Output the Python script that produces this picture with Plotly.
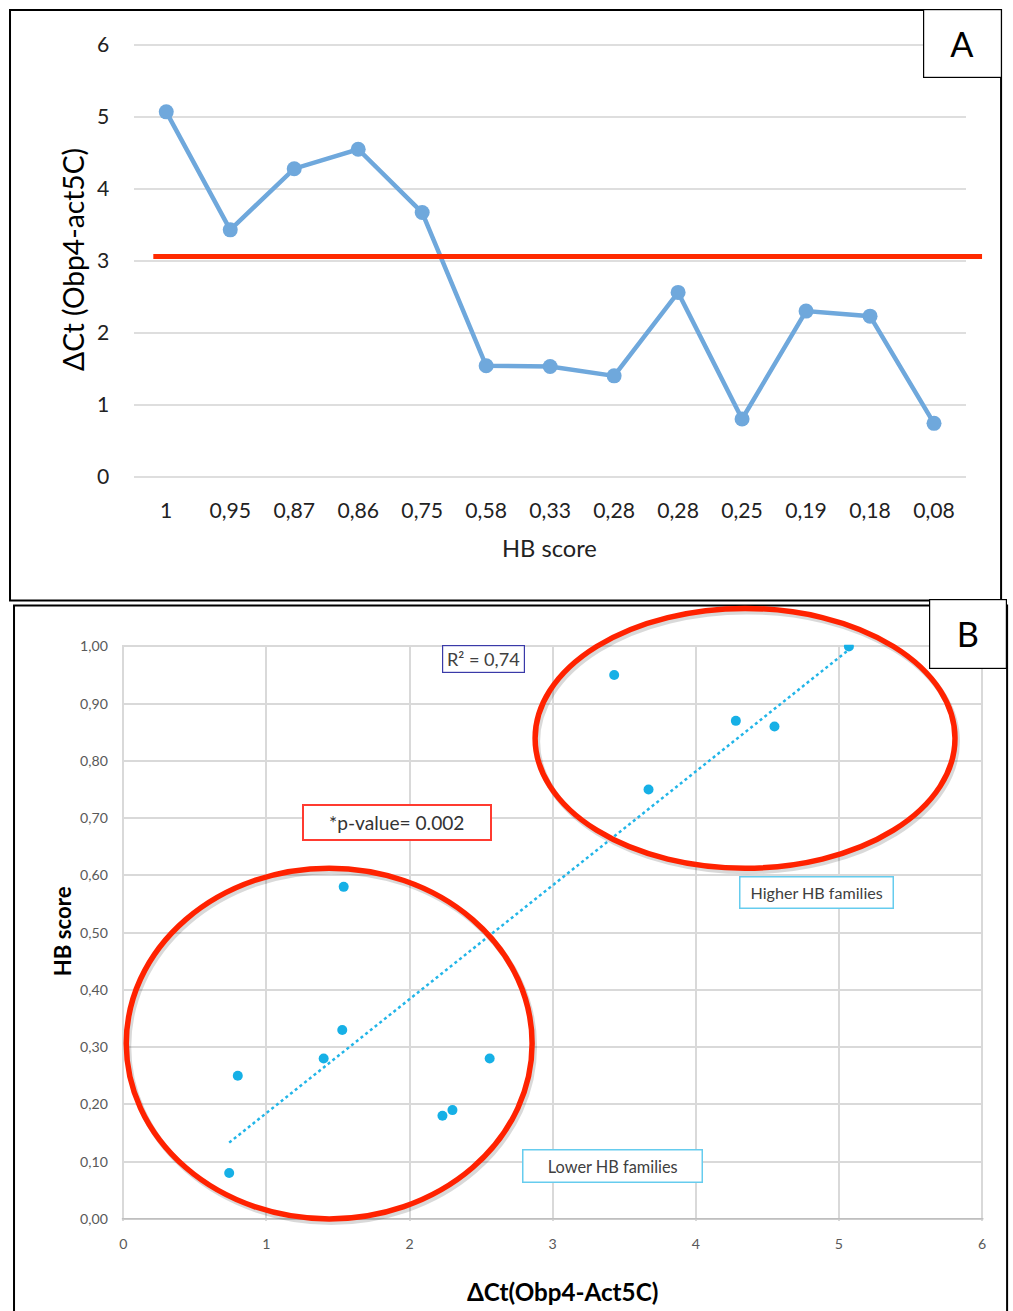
import numpy as np
import plotly.graph_objects as go

# ---------------- data ----------------
hb_score = [1, 0.95, 0.87, 0.86, 0.75, 0.58, 0.33, 0.28, 0.28, 0.25, 0.19, 0.18, 0.08]
delta_ct = [5.07, 3.43, 4.28, 4.55, 3.67, 1.54, 1.53, 1.40, 2.56, 0.80, 2.30, 2.23, 0.74]
threshold = 3.06
r2_text = "R² = 0,74"
p_text = "*p-value= 0.002"
hb_labels = [f"{v:g}".replace(".", ",") for v in hb_score]
positions = list(range(len(hb_score)))

W, H = 1013, 1311
# map target-picture pixels to paper coordinates (compensating the capture's slight inset)
SX, OX, SY, OY = 0.992, 5.0, 0.991, 7.0
def px(x):
    return ((x - OX) / SX) / W
def py(y):
    return 1 - ((y - OY) / SY) / H
K = 1 / SX  # size compensation

font = "Lato"
fig = go.Figure()

# ---------------- panel A ----------------
fig.add_trace(go.Scatter(
    x=positions, y=delta_ct, mode="lines+markers",
    line=dict(color="#6fa8dc", width=4.5), marker=dict(color="#6fa8dc", size=15),
    xaxis="x", yaxis="y", showlegend=False, hoverinfo="skip"))

# ---------------- panel B ----------------
slope, intercept = np.polyfit(delta_ct, hb_score, 1)
xfit = np.array([min(delta_ct), max(delta_ct)])
fig.add_trace(go.Scatter(
    x=xfit, y=slope * xfit + intercept, mode="lines",
    line=dict(color="#22b5e8", width=2.5, dash="dot"),
    xaxis="x2", yaxis="y2", showlegend=False, hoverinfo="skip"))
fig.add_trace(go.Scatter(
    x=delta_ct, y=hb_score, mode="markers",
    marker=dict(color="#16b0e6", size=10),
    xaxis="x2", yaxis="y2", showlegend=False, hoverinfo="skip"))

fig.update_layout(
    width=W, height=H, margin=dict(l=0, r=0, t=0, b=0),
    paper_bgcolor="white", plot_bgcolor="white", separators=",.",
    xaxis=dict(domain=[px(136), px(966)], range=[-0.5, 12.5], tickvals=positions, ticktext=hb_labels,
               showgrid=False, zeroline=False, showline=False, ticks="", ticklabelstandoff=12,
               tickfont=dict(family=font, size=21 * K, color="#222222"), anchor="y", fixedrange=True),
    yaxis=dict(domain=[py(484.2), py(37.8)], range=[-0.1, 6.1], tickvals=[0, 1, 2, 3, 4, 5, 6],
               showgrid=True, gridcolor="#dedede", gridwidth=2, zeroline=False, showline=False,
               ticks="", ticklabelstandoff=24, tickfont=dict(family=font, size=21 * K, color="#222222"),
               anchor="x", fixedrange=True),
    xaxis2=dict(domain=[px(123.6), px(983.4)], range=[-0.01, 6.01], tickvals=[0, 1, 2, 3, 4, 5, 6],
                showgrid=True, gridcolor="#d9d9d9", gridwidth=1.5, zeroline=False, showline=False,
                ticks="", ticklabelstandoff=13, tickfont=dict(family=font, size=14 * K, color="#595959"),
                anchor="y2", fixedrange=True),
    yaxis2=dict(domain=[py(1221.7), py(645.3)], range=[-0.003, 1.003],
                tickvals=[round(0.1 * i, 1) for i in range(11)], tickformat=".2f",
                showgrid=True, gridcolor="#d9d9d9", gridwidth=1.5, zeroline=False, showline=False,
                ticks="", ticklabelstandoff=13, tickfont=dict(family=font, size=14 * K, color="#595959"),
                anchor="x2", fixedrange=True),
)

shapes = []
shapes.append(dict(type="line", xref="paper", yref="y2", x0=px(123.6), x1=px(983.4), y0=0, y1=0,
                   line=dict(color="#bfbfbf", width=1.5)))
shapes.append(dict(type="line", xref="paper", yref="y", x0=px(155), x1=px(982), y0=threshold, y1=threshold,
                   line=dict(color="#ff2a00", width=5)))
# panel frames
shapes.append(dict(type="rect", xref="paper", yref="paper", x0=px(12), x1=px(1001), y0=py(601), y1=py(10),
                   line=dict(color="black", width=2)))
shapes.append(dict(type="rect", xref="paper", yref="paper", x0=px(16), x1=px(1007), y0=py(1330), y1=py(606),
                   line=dict(color="black", width=2)))
# ellipses with soft shadows
for (x0, x1, y0, y1) in [(536, 955, 609, 869), (128, 533, 869, 1220)]:
    shapes.append(dict(type="circle", xref="paper", yref="paper",
                       x0=px(x0 + 2), x1=px(x1 + 2), y0=py(y1 + 3), y1=py(y0 + 3),
                       line=dict(color="rgba(0,0,0,0.15)", width=6)))
    shapes.append(dict(type="circle", xref="paper", yref="paper",
                       x0=px(x0), x1=px(x1), y0=py(y1), y1=py(y0),
                       line=dict(color="#ff2200", width=5.5)))
fig.update_layout(shapes=shapes)

ann = []
def box(text, cx, cy, w, h, size, color, border, bw):
    ann.append(dict(text=text, x=px(cx), y=py(cy), xref="paper", yref="paper",
                    showarrow=False, xanchor="center", yanchor="middle",
                    width=w * K - 2 * bw, height=h * K - 2 * bw, borderpad=0,
                    bordercolor=border, borderwidth=bw, bgcolor="white",
                    font=dict(family=font, size=size * K, color=color)))

def label(text, cx, cy, size, angle=0, color="black"):
    ann.append(dict(text=text, x=px(cx), y=py(cy), xref="paper", yref="paper",
                    showarrow=False, textangle=angle, xanchor="center", yanchor="middle",
                    font=dict(family=font, size=size * K, color=color)))

# titles
label("ΔCt (Obp4-act5C)", 75, 260, 28, angle=-90)
label("HB score", 550, 549, 23.5, color="#222222")
label("<b>HB score</b>", 64, 932, 22, angle=-90)
label("<b>ΔCt(Obp4-Act5C)</b>", 563, 1293, 24)

# text boxes
box(r2_text, 484, 660, 82, 28, 18, "#404040", "#3a3aa8", 1.2)
box(p_text, 398, 823.5, 188, 37, 19, "#333333", "#ff3b30", 2)
box("Higher HB families", 817, 893.5, 154, 33, 16, "#404040", "#66ccee", 1.5)
box("Lower HB families", 613, 1167, 180, 34, 16.2, "#404040", "#66ccee", 1.5)

# panel labels
box("A", 962, 44, 78, 68, 34, "black", "black", 1.2)
box("B", 967.5, 634.5, 77, 69, 34, "black", "black", 1.2)

fig.update_layout(annotations=ann)

fig.write_html("out.html", config={"displayModeBar": False},
               post_script="document.body.style.margin='0';document.body.style.overflow='hidden';")
